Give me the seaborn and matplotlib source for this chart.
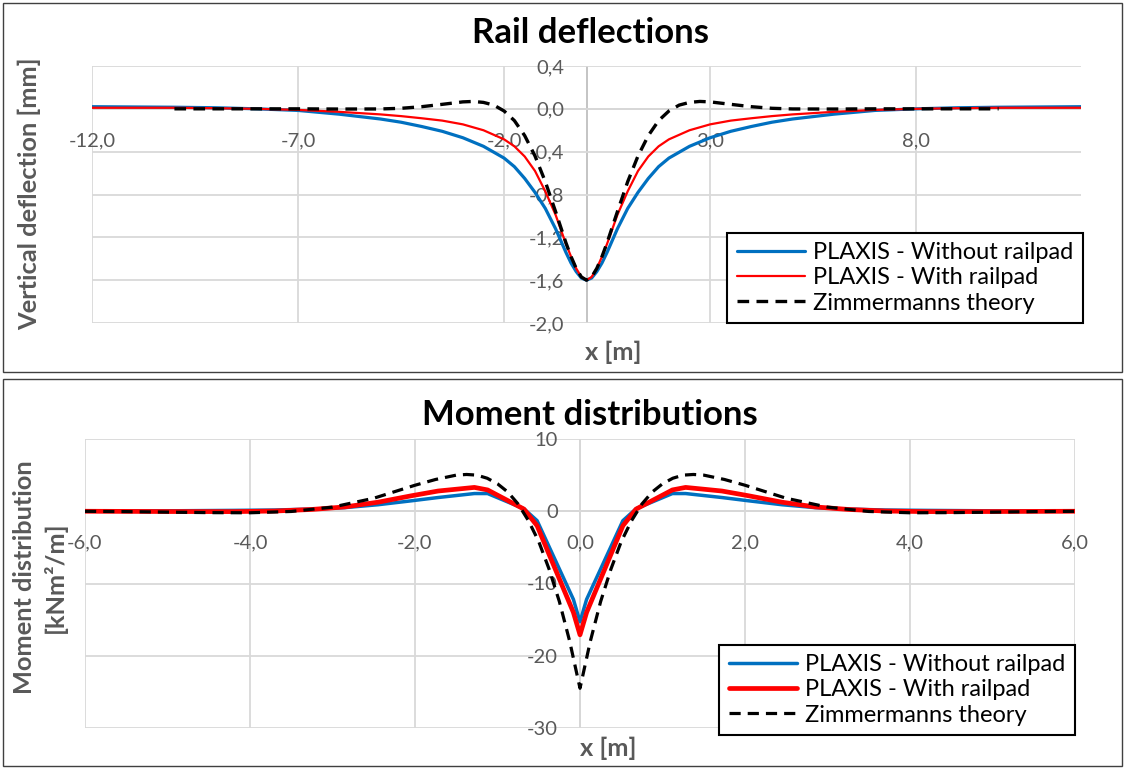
import matplotlib
matplotlib.use("Agg")
import matplotlib.pyplot as plt
import seaborn as sns
from matplotlib.patches import Rectangle

# ---------------------------------------------------------------- data
# Rail deflections [mm] along the track, x in metres
x_defl = [-12.0, -10.0, -9.0, -8.0, -7.0, -6.0, -5.0, -4.5, -4.0, -3.5, -3.0,
          -2.5, -2.0, -1.75, -1.5, -1.25, -1.0, -0.75, -0.5, -0.375, -0.25,
          -0.125, 0.0, 0.125, 0.25, 0.375, 0.5, 0.75, 1.0, 1.25, 1.5, 1.75,
          2.0, 2.5, 3.0, 3.5, 4.0, 4.5, 5.0, 6.0, 7.0, 8.0, 9.0, 10.0, 12.0]
defl_without_pad = [0.02, 0.015, 0.01, 0.0, -0.015, -0.05, -0.095, -0.125,
                    -0.165, -0.21, -0.27, -0.35, -0.46, -0.54, -0.65, -0.78,
                    -0.93, -1.12, -1.34, -1.44, -1.52, -1.58, -1.60, -1.58,
                    -1.52, -1.44, -1.34, -1.12, -0.93, -0.78, -0.65, -0.54,
                    -0.46, -0.35, -0.27, -0.21, -0.165, -0.125, -0.095, -0.05,
                    -0.015, 0.0, 0.01, 0.015, 0.02]
defl_with_pad = [0.01, 0.01, 0.006, 0.0, -0.01, -0.028, -0.052, -0.068,
                 -0.088, -0.11, -0.145, -0.2, -0.285, -0.35, -0.445, -0.58,
                 -0.77, -0.99, -1.26, -1.38, -1.49, -1.57, -1.60, -1.57,
                 -1.49, -1.38, -1.26, -0.99, -0.77, -0.58, -0.445, -0.35,
                 -0.285, -0.2, -0.145, -0.11, -0.088, -0.068, -0.052, -0.028,
                 -0.01, 0.0, 0.006, 0.01, 0.01]

x_defl_theory = [-10.0, -8.0, -7.0, -6.0, -5.0, -4.5, -4.0, -3.5, -3.0, -2.75,
                 -2.5, -2.25, -2.0, -1.75, -1.5, -1.25, -1.0, -0.75, -0.5,
                 -0.375, -0.25, -0.125, 0.0, 0.125, 0.25, 0.375, 0.5, 0.75,
                 1.0, 1.25, 1.5, 1.75, 2.0, 2.25, 2.5, 2.75, 3.0, 3.5, 4.0,
                 4.5, 5.0, 6.0, 7.0, 8.0, 10.0]
defl_theory = [0.0, 0.0, 0.0, -0.002, -0.001, 0.005, 0.02, 0.042, 0.065, 0.069,
               0.06, 0.035, -0.02, -0.11, -0.25, -0.44, -0.68, -0.96, -1.25,
               -1.38, -1.49, -1.57, -1.60, -1.57, -1.49, -1.38, -1.25, -0.96,
               -0.68, -0.44, -0.25, -0.11, -0.02, 0.035, 0.06, 0.069, 0.065,
               0.042, 0.02, 0.005, -0.001, -0.002, 0.0, 0.0, 0.0]

# Bending moment distribution [kNm2/m], x in metres
x_mom = [-6.0, -5.0, -4.2, -3.7, -3.25, -2.85, -2.45, -2.04, -1.72, -1.28,
         -1.12, -0.68, -0.52, -0.08, 0.0, 0.08, 0.52, 0.68, 1.12, 1.28, 1.72,
         2.04, 2.45, 2.85, 3.25, 3.7, 4.2, 5.0, 6.0]
mom_without_pad = [0.02, 0.06, 0.12, 0.17, 0.3, 0.5, 0.9, 1.45, 1.9, 2.45,
                   2.45, 0.35, -1.3, -12.2, -15.3, -12.2, -1.3, 0.35, 2.45,
                   2.45, 1.9, 1.45, 0.9, 0.5, 0.3, 0.17, 0.12, 0.06, 0.02]
mom_with_pad = [0.0, -0.04, -0.05, 0.03, 0.25, 0.6, 1.25, 2.15, 2.8, 3.3,
                2.95, 0.3, -2.0, -14.0, -17.1, -14.0, -2.0, 0.3, 2.95, 3.3,
                2.8, 2.15, 1.25, 0.6, 0.25, 0.03, -0.05, -0.04, 0.0]

x_mom_theory = [-6.0, -5.5, -5.0, -4.5, -4.0, -3.5, -3.0, -2.5, -2.0, -1.75,
                -1.5, -1.375, -1.25, -1.125, -1.0, -0.875, -0.75, -0.625,
                -0.5, -0.375, -0.25, -0.125, 0.0, 0.125, 0.25, 0.375, 0.5,
                0.625, 0.75, 0.875, 1.0, 1.125, 1.25, 1.375, 1.5, 1.75, 2.0,
                2.5, 3.0, 3.5, 4.0, 4.5, 5.0, 5.5, 6.0]
mom_theory = [-0.01, -0.05, -0.12, -0.19, -0.21, -0.03, 0.57, 1.8, 3.6, 4.4,
              5.0, 5.09, 5.0, 4.57, 3.8, 2.66, 1.0, -1.3, -4.2, -8.0, -12.5,
              -18.0, -24.5, -18.0, -12.5, -8.0, -4.2, -1.3, 1.0, 2.66, 3.8,
              4.57, 5.0, 5.09, 5.0, 4.4, 3.6, 1.8, 0.57, -0.03, -0.21, -0.19,
              -0.12, -0.05, -0.01]

series_labels = ["PLAXIS - Without railpad", "PLAXIS - With railpad",
                 "Zimmermanns theory"]

# ---------------------------------------------------------------- style
sns.set_style("white")
plt.rcParams["font.family"] = ["Lato", "DejaVu Sans"]

TEXT_GRAY = "#595959"
GRID_GRAY = "#D9D9D9"
AXIS_GRAY = "#BFBFBF"
BLUE = "#0070C0"
RED = "#FF0000"
W, H = 1126, 769


def fx(px):
    return px / W


def fy(py):
    return 1 - py / H


def comma(v, nd=1):
    return f"{v:.{nd}f}".replace(".", ",")


fig = plt.figure(figsize=(W / 100, H / 100), dpi=100)

# chart frames
for top, bottom in [(3, 372), (379, 766)]:
    fig.patches.append(Rectangle((fx(3), fy(bottom)), fx(1119),
                                 (bottom - top) / H, transform=fig.transFigure,
                                 fill=False, edgecolor="#404040", lw=1.0))


def style_axes(ax, xticks, xlabels, yticks, ylabels):
    ax.set_xticks(xticks)
    ax.set_xticklabels(xlabels)
    ax.set_yticks(yticks)
    ax.set_yticklabels(ylabels)
    ax.set_axisbelow(True)
    ax.grid(True, color=GRID_GRAY, lw=1.3)
    # the axes cross at the origin; labels follow the (hidden) spines
    for side in ("top", "right"):
        ax.spines[side].set_visible(False)
    for side in ("left", "bottom"):
        ax.spines[side].set_position(("data", 0))
        ax.spines[side].set_visible(False)
    ax.axhline(0, color=AXIS_GRAY, lw=1.3, zorder=0.4)
    ax.axvline(0, color=AXIS_GRAY, lw=1.3, zorder=0.4)
    ax.tick_params(axis="both", length=0, labelsize=14.5, labelcolor=TEXT_GRAY)
    ax.tick_params(axis="x", pad=17)
    ax.tick_params(axis="y", pad=16)
    ax.set_xlabel("")
    ax.set_ylabel("")


def add_legend(ax, right, bottom):
    leg = ax.legend(loc="lower right", bbox_to_anchor=(fx(right), fy(bottom)),
                    bbox_transform=fig.transFigure, fontsize=17,
                    frameon=True, fancybox=False, framealpha=1,
                    edgecolor="black", handlelength=2.9, handletextpad=0.35,
                    labelspacing=0.18, borderpad=0.4, borderaxespad=0)
    leg.get_frame().set_linewidth(1.5)
    for t in leg.get_texts():
        t.set_color("black")
    return leg


# ---------------------------------------------------------------- rail deflections
ax1 = fig.add_axes([fx(92), fy(323), fx(1081 - 92), (323 - 66) / H])
sns.lineplot(x=x_defl, y=defl_without_pad, ax=ax1, color=BLUE, lw=2.3,
             label=series_labels[0])
sns.lineplot(x=x_defl, y=defl_with_pad, ax=ax1, color=RED, lw=1.6,
             label=series_labels[1])
sns.lineplot(x=x_defl_theory, y=defl_theory, ax=ax1, color="black", lw=2.4,
             linestyle=(0, (3.5, 2.2)), label=series_labels[2])
ax1.set_xlim(-12, 12)
ax1.set_ylim(-2.0, 0.4)
yt1 = [0.4, 0.0, -0.4, -0.8, -1.2, -1.6, -2.0]
xt1 = [-12, -7, -2, 3, 8]
style_axes(ax1, xt1, [comma(v) for v in xt1], yt1, [comma(v) for v in yt1])
add_legend(ax1, 1083, 323)

fig.text(fx(590), fy(43), "Rail deflections", ha="center", va="baseline",
         fontsize=25, fontweight="bold", color="black")
fig.text(fx(29), fy(194), "Vertical deflection [mm]", rotation=90,
         ha="center", va="center", fontsize=18.3, fontweight="bold",
         color=TEXT_GRAY)
fig.text(fx(613), fy(352), "x [m]", ha="center", va="center", fontsize=18.3,
         fontweight="bold", color=TEXT_GRAY)

# ---------------------------------------------------------------- moment distributions
ax2 = fig.add_axes([fx(85), fy(728), fx(1075 - 85), (728 - 439) / H])
sns.lineplot(x=x_mom, y=mom_without_pad, ax=ax2, color=BLUE, lw=2.5,
             label=series_labels[0])
sns.lineplot(x=x_mom, y=mom_with_pad, ax=ax2, color=RED, lw=3.4,
             label=series_labels[1])
sns.lineplot(x=x_mom_theory, y=mom_theory, ax=ax2, color="black", lw=2.3,
             linestyle=(0, (3.5, 2.2)), label=series_labels[2])
ax2.set_xlim(-6, 6)
ax2.set_ylim(-30, 10)
yt2 = [10, 0, -10, -20, -30]
xt2 = [-6, -4, -2, 0, 2, 4, 6]
style_axes(ax2, xt2, [comma(v) for v in xt2], yt2, [str(v) for v in yt2])
add_legend(ax2, 1075, 735)

fig.text(fx(590), fy(425), "Moment distributions", ha="center", va="baseline",
         fontsize=25, fontweight="bold", color="black")
fig.text(fx(40), fy(577), "Moment distribution\n[kNm\u00b2/m]", rotation=90,
         ha="center", va="center", multialignment="center", linespacing=1.3,
         fontsize=18.3, fontweight="bold", color=TEXT_GRAY)
fig.text(fx(608), fy(748), "x [m]", ha="center", va="center", fontsize=18.3,
         fontweight="bold", color=TEXT_GRAY)

fig.savefig("out.png", dpi=100)
